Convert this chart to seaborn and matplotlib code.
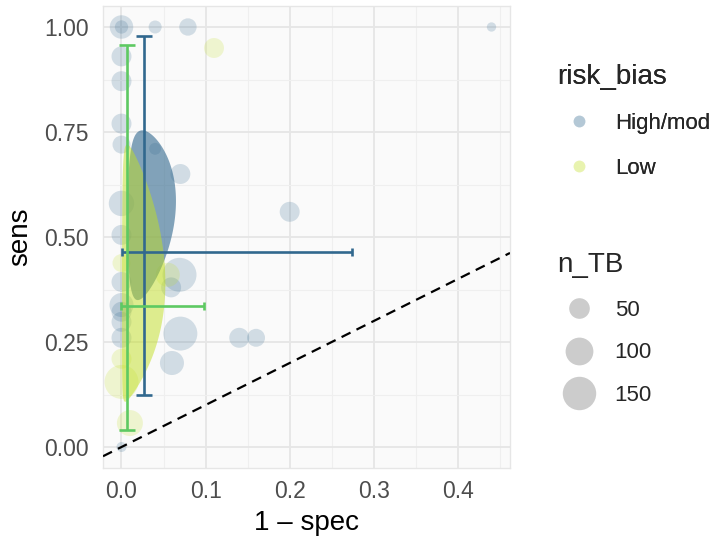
import matplotlib
matplotlib.use("Agg")
import matplotlib.pyplot as plt
from matplotlib.lines import Line2D
import numpy as np
import pandas as pd
import seaborn as sns

# study level data
FPR = [0.0, 0.0, 0.04, 0.079, 0.44, 0.0, 0.0, 0.0, 0.0, 0.04, 0.07, 0.0, 0.0, 0.2,
       0.0, 0.069, 0.059, 0.0, 0.0, 0.0, 0.0, 0.07, 0.06, 0.14, 0.16, 0.0,
       0.11, 0.0, 0.055, 0.0, 0.0, 0.01]
SENS = [1.0, 1.0, 1.0, 1.0, 1.0, 0.93, 0.871, 0.77, 0.72, 0.71, 0.65, 0.58, 0.505, 0.56,
        0.393, 0.41, 0.38, 0.338, 0.322, 0.298, 0.26, 0.27, 0.20, 0.26, 0.26, 0.0,
        0.95, 0.438, 0.41, 0.21, 0.155, 0.057]
N_TB = [68, 14, 13, 32, 1, 46, 46, 46, 35, 9, 46, 82, 46, 46,
        46, 155, 46, 72, 46, 46, 46, 155, 72, 46, 35, 3,
        46, 35, 72, 46, 155, 86]
RISK = ["High/mod"] * 26 + ["Low"] * 6

GROUPS = ["High/mod", "Low"]
POINT_COLORS = {"High/mod": "#31688e", "Low": "#c2df23"}
BAR_COLORS = {"High/mod": "#31688e", "Low": "#5ec962"}

# pooled summary per group: fpr, fpr CI, sens, sens CI
SUM_FPR = {"High/mod": 0.027, "Low": 0.006}
SUM_FPR_CI = {"High/mod": (0.001, 0.274), "Low": (0.0, 0.098)}
SUM_SENS = {"High/mod": 0.4635, "Low": 0.336}
SUM_SENS_CI = {"High/mod": (0.124, 0.979), "Low": (0.04, 0.957)}
# confidence region on logit scale: mean fpr, mean sens, half-widths, correlation
ELL_MU = {"High/mod": (-3.8, 0.25), "Low": (-5.2, -0.585)}
ELL_HALF = {"High/mod": (1.13, 0.87), "Low": (2.3, 1.53)}
ELL_RHO = {"High/mod": 0.11, "Low": 0.09}
ELL_ALPHA = {"High/mod": 0.6, "Low": 0.5}

SIZE_BREAKS = [50, 100, 150]

df = pd.DataFrame({"fpr": FPR, "sens": SENS, "n_TB": N_TB, "risk_bias": RISK})


def expit(v):
    return 1.0 / (1.0 + np.exp(-v))


def size_of(n):
    return 41.5 + 3.59 * n


sns.set_theme(style="whitegrid")
plt.rcParams["font.family"] = ["Liberation Sans", "DejaVu Sans"]

fig = plt.figure(figsize=(7.17, 5.42), dpi=100)
ax = fig.add_axes([103 / 717, 74 / 542, 407 / 717, 462 / 542])
ax.set_facecolor("#fafafa")

sns.scatterplot(
    data=df, x="fpr", y="sens", hue="risk_bias", palette=POINT_COLORS,
    size="n_TB", sizes=(size_of(0), size_of(200)), size_norm=(0, 200),
    alpha=0.2, linewidth=0, legend=False, ax=ax, zorder=3,
)

t = np.linspace(0, 2 * np.pi, 300)
for g in GROUPS:
    mx, my = ELL_MU[g]
    hx, hy = ELL_HALF[g]
    rho = ELL_RHO[g]
    lx = mx + hx * np.cos(t)
    ly = my + hy * (rho * np.cos(t) + np.sqrt(1 - rho ** 2) * np.sin(t))
    ax.fill(expit(lx), expit(ly), color=POINT_COLORS[g], alpha=ELL_ALPHA[g],
            linewidth=0, zorder=4)

for g in GROUPS:
    c = BAR_COLORS[g]
    lo, hi = SUM_SENS_CI[g]
    ax.errorbar(SUM_FPR[g], SUM_SENS[g],
                yerr=[[SUM_SENS[g] - lo], [hi - SUM_SENS[g]]],
                fmt="none", ecolor=c, elinewidth=1.9, capsize=6, capthick=1.9, zorder=5)
    lo, hi = SUM_FPR_CI[g]
    ax.errorbar(SUM_FPR[g], SUM_SENS[g],
                xerr=[[SUM_FPR[g] - lo], [hi - SUM_FPR[g]]],
                fmt="none", ecolor=c, elinewidth=1.9, capsize=2.8, capthick=1.9, zorder=5)

ax.axline((0, 0), slope=1, color="black", linestyle=(0, (4.5, 3)), linewidth=1.6, zorder=6)

ax.set_xlim(-0.022, 0.462)
ax.set_ylim(-0.05, 1.05)
ax.set_xticks([0.0, 0.1, 0.2, 0.3, 0.4])
ax.set_xticklabels(["0.0", "0.1", "0.2", "0.3", "0.4"])
ax.set_yticks([0.0, 0.25, 0.5, 0.75, 1.0])
ax.set_yticklabels(["0.00", "0.25", "0.50", "0.75", "1.00"])
ax.set_xticks([0.05, 0.15, 0.25, 0.35, 0.45], minor=True)
ax.set_yticks([0.125, 0.375, 0.625, 0.875], minor=True)
ax.grid(which="major", color="#e6e6e6", linewidth=1.3)
ax.grid(which="minor", color="#efefef", linewidth=0.8)
ax.tick_params(which="both", length=0, labelsize=16.5, labelcolor="#4d4d4d")
ax.tick_params(axis="y", pad=10)
ax.tick_params(axis="x", pad=9)
for s in ax.spines.values():
    s.set_color("#e6e6e6")
    s.set_linewidth(1.0)
ax.set_xlabel("1 – spec", fontsize=20, color="black", labelpad=5)
ax.set_ylabel("sens", fontsize=20, color="black", labelpad=8)

hue_handles = [
    Line2D([], [], marker="o", linestyle="", markersize=8.5, markeredgewidth=0,
           markerfacecolor=POINT_COLORS[g], alpha=0.2)
    for g in GROUPS
]
leg1 = fig.legend(hue_handles, GROUPS, title="risk_bias", loc="upper left",
                  bbox_to_anchor=(548 / 717, 1 - 55 / 542), frameon=False,
                  fontsize=16, title_fontsize=20, alignment="left",
                  labelspacing=1.05, handletextpad=0.6, borderaxespad=0)
size_handles = [
    Line2D([], [], marker="o", linestyle="", markersize=np.sqrt(size_of(n)),
           markeredgewidth=0, markerfacecolor="black", alpha=0.2)
    for n in SIZE_BREAKS
]
leg2 = fig.legend(size_handles, [str(n) for n in SIZE_BREAKS], title="n_TB", loc="upper left",
                  bbox_to_anchor=(548 / 717, 1 - 243 / 542), frameon=False,
                  fontsize=16, title_fontsize=20, alignment="left",
                  labelspacing=0.98, handletextpad=0.6, borderaxespad=0)
fig.add_artist(leg1)

fig.savefig("out.png", dpi=100)
